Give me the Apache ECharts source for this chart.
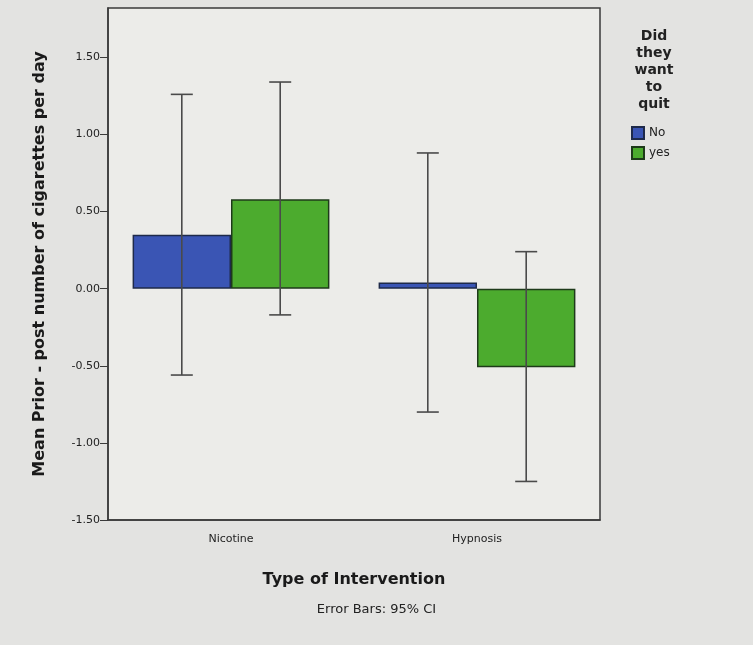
<!DOCTYPE html>
<html><head><meta charset="utf-8">
<script src="https://cdn.jsdelivr.net/npm/echarts@6/dist/echarts.min.js"></script>
<style>html,body{margin:0;padding:0;background:#e3e3e1;}#c{width:753px;height:645px;}</style>
</head><body><div id="c"></div>
<script>
const categories = ['Nicotine', 'Hypnosis'];
const seriesNames = ['No', 'yes'];
const meanNo = [0.35, 0.04];
const meanYes = [0.58, -0.51];
const ciLowNo = [-0.56, -0.80];
const ciHighNo = [1.26, 0.88];
const ciLowYes = [-0.17, -1.25];
const ciHighYes = [1.34, 0.24];

const colors = ['#3a55b4', '#4cab2e'];
const font = 'DejaVu Sans';

function errData(lo, hi) { return categories.map((c, i) => [i, lo[i], hi[i]]); }

function errSeries(lo, hi, idx) {
  return {
    type: 'custom',
    z: 5,
    data: errData(lo, hi),
    renderItem: function (params, api) {
      const x = api.value(0);
      const band = api.size([1, 0])[0];
      const bw = band * 0.8 / 2;
      const off = (idx === 0 ? -1 : 1) * bw / 2;
      const pLo = api.coord([x, api.value(1)]);
      const pHi = api.coord([x, api.value(2)]);
      const cx = pLo[0] + off;
      const cap = 11;
      const st = { stroke: '#4a4a4a', lineWidth: 1.6, fill: null };
      return { type: 'group', children: [
        { type: 'line', shape: { x1: cx, y1: pLo[1], x2: cx, y2: pHi[1] }, style: st },
        { type: 'line', shape: { x1: cx - cap, y1: pLo[1], x2: cx + cap, y2: pLo[1] }, style: st },
        { type: 'line', shape: { x1: cx - cap, y1: pHi[1], x2: cx + cap, y2: pHi[1] }, style: st }
      ]};
    }
  };
}

const chart = echarts.init(document.getElementById('c'));
chart.setOption({
  backgroundColor: '#e3e3e1',
  animation: false,
  textStyle: { fontFamily: font },
  grid: { left: 108, right: 153, top: 8, bottom: 125, show: true, backgroundColor: '#ecece9', borderColor: '#3a3a3a', borderWidth: 1.5 },
  legend: {
    data: seriesNames, orient: 'vertical', left: 626, top: 121, itemWidth: 12, itemHeight: 12, itemGap: 6,
    icon: 'rect', textStyle: { fontSize: 12, color: '#222', fontFamily: font }
  },
  xAxis: {
    type: 'category', data: categories,
    name: 'Type of Intervention', nameLocation: 'middle', nameGap: 52,
    nameTextStyle: { fontSize: 16, fontWeight: 'bold', color: '#1a1a1a', fontFamily: font },
    axisLine: { onZero: false, lineStyle: { color: '#3a3a3a', width: 1.5 } },
    axisTick: { alignWithLabel: true, length: 6, lineStyle: { color: '#3a3a3a' } },
    axisLabel: { fontSize: 11, color: '#222', margin: 14 }
  },
  yAxis: {
    type: 'value', min: -1.5, max: 1.82, interval: 0.5,
    name: 'Mean Prior - post number of cigarettes per day', nameLocation: 'middle', nameGap: 60,
    nameTextStyle: { fontSize: 16, fontWeight: 'bold', color: '#1a1a1a', fontFamily: font },
    axisLine: { show: true, lineStyle: { color: '#3a3a3a', width: 1.5 } },
    axisTick: { show: true, length: 8, lineStyle: { color: '#3a3a3a' } },
    splitLine: { show: false },
    axisLabel: { fontSize: 11, color: '#222', showMaxLabel: false, formatter: v => v.toFixed(2) }
  },
  series: [
    { name: seriesNames[0], type: 'bar', data: meanNo, barGap: '0%', barCategoryGap: '20%',
      itemStyle: { color: colors[0], borderColor: '#1e2a4a', borderWidth: 1.5 } },
    { name: seriesNames[1], type: 'bar', data: meanYes, barGap: '0%', barCategoryGap: '20%',
      itemStyle: { color: colors[1], borderColor: '#1e3a1a', borderWidth: 1.5 } },
    errSeries(ciLowNo, ciHighNo, 0),
    errSeries(ciLowYes, ciHighYes, 1)
  ],
  graphic: [
    { type: 'text', x: 654, y: 28, style: { text: 'Did\nthey\nwant\nto\nquit', align: 'center', fontSize: 14, fontWeight: 'bold', lineHeight: 17, fill: '#222', fontFamily: font } },
    { type: 'text', left: 'center', top: 603, style: { text: 'Error Bars: 95% CI', fontSize: 13, fill: '#222', fontFamily: font } }
  ]
});
</script></body></html>
